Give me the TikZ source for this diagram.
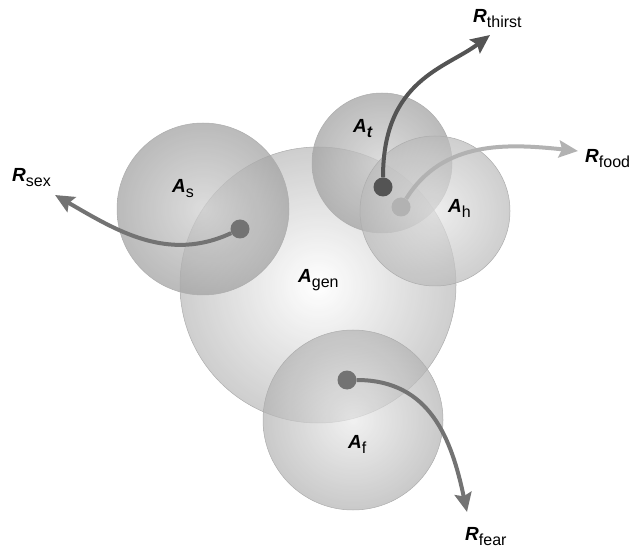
\documentclass[tikz,border=0pt]{standalone}
\usepackage{fontspec}
\setmainfont{Liberation Sans}
\usetikzlibrary{arrows.meta}
\definecolor{RimColor}{gray}{0.68}
\definecolor{DotMid}{gray}{0.45}
\definecolor{DotDark}{gray}{0.33}
\definecolor{DotLight}{gray}{0.70}
\tikzset{
  area/.style={circle, draw=RimColor, line width=0.5pt, inner sep=0pt, shading=radial},
  areadot/.style={circle, inner sep=0pt, minimum size=19pt},
  resp/.style={line width=4pt, -{Stealth[length=19pt,width=17pt,inset=3pt]}},
  tag/.style={anchor=base west, inner sep=0pt, font=\fontsize{19}{22}\selectfont},
}
\newcommand{\nm}[2]{\textbf{\textit{#1}}\raisebox{-5pt}{\fontsize{16}{18}\selectfont #2}}

\begin{document}
\begin{tikzpicture}[x=1pt, y=1pt]
  \useasboundingbox (0,0) rectangle (631,549);
  % regions
  \node[area, minimum size=276pt, inner color=white, outer color=black!24, fill opacity=0.8] (gen) at (318,264) {};
  \node[area, minimum size=172pt, inner color=black!18, outer color=black!36, fill opacity=0.75] (sex) at (203,340) {};
  \node[area, minimum size=140pt, inner color=black!18, outer color=black!36, fill opacity=0.75] (thirst) at (382,386) {};
  \node[area, minimum size=150pt, inner color=black!10, outer color=black!27, fill opacity=0.7] (food) at (435,338) {};
  \node[area, minimum size=180pt, inner color=black!8, outer color=black!30, fill opacity=0.7] (fear) at (353,129) {};
  % labels of regions
  \node[tag] (lgen) at (298,266) {\nm{A}{gen}};
  \node[tag] (lsex) at (172,356) {\nm{A}{s}};
  \node[tag] (lthirst) at (353,416) {\nm{A}{\textbf{\textit{t}}}};
  \node[tag] (lfood) at (448,336) {\nm{A}{h}};
  \node[tag] (lfear) at (348,101) {\nm{A}{f}};
  % dots
  \node[areadot, fill=DotMid] (dsex) at (240,320) {};
  \node[areadot, fill=DotDark] (dthirst) at (383,362) {};
  \node[areadot, fill=DotLight] (dfood) at (401,342) {};
  \node[areadot, fill=DotMid] (dfear) at (347,169) {};
  % responses
  \coordinate (tsex) at (55,354);
  \coordinate (tthirst) at (490,514);
  \coordinate (tfood) at (578,398);
  \coordinate (tfear) at (467,37);
  \node[tag] (rsex) at (12,367) {\nm{R}{sex}};
  \node[tag] (rthirst) at (473,526) {\nm{R}{thirst}};
  \node[tag] (rfood) at (585,386) {\nm{R}{food}};
  \node[tag] (rfear) at (465,9) {\nm{R}{fear}};
  \draw[resp, DotMid] (dsex) to[out=205, in=-30] (tsex);
  \draw[resp, DotDark] (dthirst) to[out=90, in=217, out looseness=1.4, in looseness=0.8] (tthirst);
  \draw[resp, DotLight] (dfood) to[out=58, in=174] (tfood);
  \draw[resp, DotMid] (dfear) to[out=0, in=102, looseness=1.1] (tfear);
\end{tikzpicture}
\end{document}
